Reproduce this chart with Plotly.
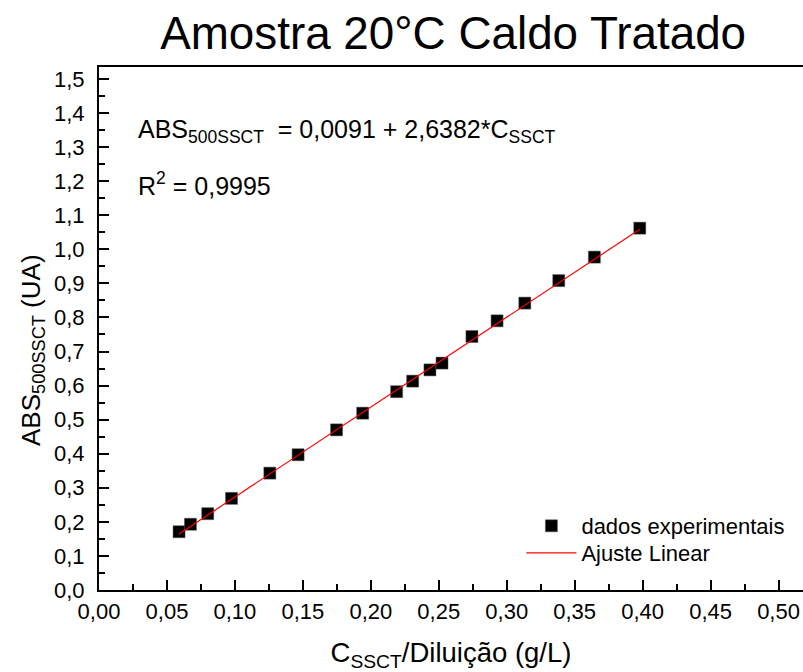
import plotly.graph_objects as go

# Data
c_ssct = [0.0589, 0.0673, 0.0800, 0.0975, 0.1257, 0.1465, 0.1748, 0.1940, 0.2190,
          0.2308, 0.2435, 0.2524, 0.2744, 0.2929, 0.3133, 0.3383, 0.3645, 0.3979]
abs_500 = [0.171, 0.193, 0.224, 0.269, 0.343, 0.397, 0.470, 0.519, 0.582,
           0.613, 0.646, 0.666, 0.744, 0.790, 0.842, 0.908, 0.977, 1.062]

fit_intercept = 0.0091
fit_slope = 2.6382
fit_x = [0.0589, 0.3979]
fit_y = [fit_intercept + fit_slope * v for v in fit_x]

FONT = "Liberation Sans, Arial, sans-serif"

fig = go.Figure()
fig.add_trace(go.Scatter(
    x=c_ssct, y=abs_500, mode="markers", name="dados experimentais",
    marker=dict(symbol="square", size=12, color="black",
                line=dict(color="#555555", width=0.5)),
    legend="legend",
))
fig.add_trace(go.Scatter(
    x=fit_x, y=fit_y, mode="lines", name="Ajuste Linear",
    line=dict(color="red", width=1.2),
    legend="legend2",
))

axis_common = dict(
    showgrid=False, zeroline=False, showline=True, linecolor="black", linewidth=2,
    ticks="inside", ticklen=10, tickwidth=2, tickcolor="black",
    tickfont=dict(family=FONT, size=22, color="black"),
)

legend_common = dict(
    xanchor="left", yanchor="top", xref="paper", yref="paper",
    bgcolor="rgba(0,0,0,0)", borderwidth=0, itemwidth=50,
    font=dict(family=FONT, size=22, color="black"),
)

fig.update_layout(
    width=803, height=672,
    margin=dict(l=99, r=0, t=67, b=82),
    paper_bgcolor="white", plot_bgcolor="white",
    separators=",.",
    font=dict(family=FONT, color="black"),
    title=dict(text="Amostra 20°C Caldo Tratado", x=0.503, xref="paper",
               xanchor="center", y=0.951, yref="container", yanchor="middle",
               font=dict(family=FONT, size=45.8, color="black")),
    xaxis=dict(
        range=[0, 0.518], tick0=0, dtick=0.05, tickformat=".2f", mirror=True,
        ticklabelstandoff=1,
        minor=dict(ticks="inside", ticklen=6, tickwidth=2, dtick=0.025, tickcolor="black"),
        title=dict(text="C<sub>SSCT</sub>/Diluição (g/L)", standoff=20,
                   font=dict(family=FONT, size=27.5, color="black")),
        **axis_common,
    ),
    yaxis=dict(
        range=[0, 1.535], tick0=0, dtick=0.1, tickformat=".1f",
        ticklabelstandoff=8,
        minor=dict(ticks="inside", ticklen=6, tickwidth=2, dtick=0.05, tickcolor="black"),
        **axis_common,
    ),
    legend=dict(x=0.6, y=0.1625, **legend_common),
    legend2=dict(x=0.6, y=0.1109, **legend_common),
    showlegend=True,
)

# Y axis title placed as a rotated annotation to match the reference's offset
fig.add_annotation(
    text="ABS<sub>500SSCT</sub> (UA)",
    xref="paper", yref="paper", x=(32 - 99) / 704, y=(590 - 350) / 523,
    xanchor="center", yanchor="middle", textangle=-90, showarrow=False,
    font=dict(family=FONT, size=26, color="black"),
)

fig.add_annotation(
    text="ABS<sub>500SSCT</sub>  = 0,0091 + 2,6382*C<sub>SSCT</sub>",
    xref="paper", yref="paper", x=(136 - 99) / 704, y=(590 - 131) / 523,
    xanchor="left", yanchor="middle", showarrow=False,
    font=dict(family=FONT, size=25, color="black"),
)
fig.add_annotation(
    text="R<sup>2</sup> = 0,9995",
    xref="paper", yref="paper", x=(136 - 99) / 704, y=(590 - 184) / 523,
    xanchor="left", yanchor="middle", showarrow=False,
    font=dict(family=FONT, size=25, color="black"),
)

fig.write_html("out.html")
